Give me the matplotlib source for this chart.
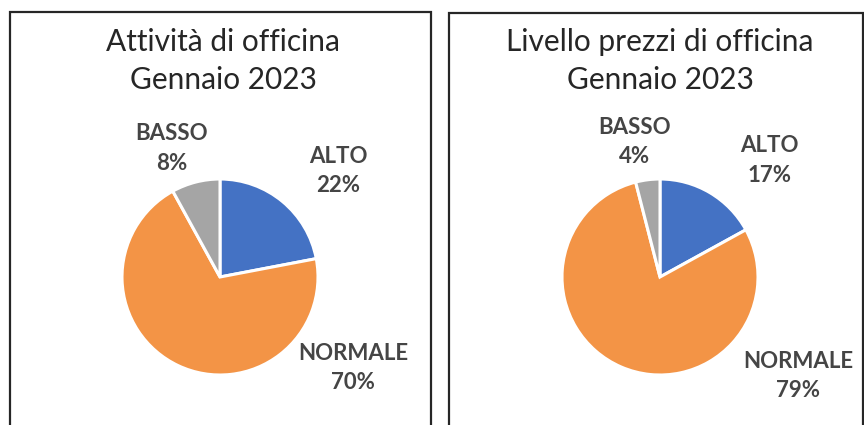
import matplotlib
matplotlib.use("Agg")
import matplotlib.pyplot as plt
from matplotlib.patches import Rectangle

plt.rcParams['font.family'] = ['Lato', 'DejaVu Sans']

categories = ["ALTO", "NORMALE", "BASSO"]
activity_values = [22, 70, 8]
price_values = [17, 79, 4]
titles = ["Attività di officina\nGennaio 2023", "Livello prezzi di officina\nGennaio 2023"]
colors = ["#4472C4", "#F39446", "#A5A5A5"]

W, H = 864, 425
fig = plt.figure(figsize=(W / 100, H / 100), dpi=100)
fig.patch.set_facecolor("white")

def fx(px):
    return px / W

def fy(py):
    return 1 - py / H

# panel borders (pixel layout)
panels = [(10, 12, 431), (449, 13, 863)]
for (x0, y0, x1) in panels:
    fig.patches.append(Rectangle((fx(x0), fy(500)), fx(x1) - fx(x0), fy(y0) - fy(500),
                                 transform=fig.transFigure, fill=False,
                                 edgecolor="#262626", linewidth=1.6))

centers = [(220, 277), (660, 277)]
r = 98
label_pos = [
    [(1.21, 1.08), (1.36, -0.93), (-0.49, 1.31)],
    [(1.12, 1.19), (1.41, -1.01), (-0.26, 1.38)],
]
title_x = [223, 660]

for i, vals in enumerate([activity_values, price_values]):
    cx, cy = centers[i]
    ax = fig.add_axes([fx(cx - r), fy(cy + r), 2 * r / W, 2 * r / H])
    ax.pie(vals, colors=colors, startangle=90, counterclock=False,
           wedgeprops=dict(edgecolor="white", linewidth=2.2))
    ax.set_xlim(-1, 1)
    ax.set_ylim(-1, 1)
    ax.set_axis_off()
    for j, cat in enumerate(categories):
        lx, ly = label_pos[i][j]
        ax.text(lx, ly, f"{cat}\n{vals[j]}%", ha="center", va="center",
                fontsize=16, fontweight="bold", color="#454545",
                linespacing=1.5, clip_on=False)
    fig.text(fx(title_x[i]), fy(61), titles[i], ha="center", va="center",
             fontsize=21.5, color="#262626", linespacing=1.4)

fig.savefig("out.png", dpi=100, facecolor="white")
